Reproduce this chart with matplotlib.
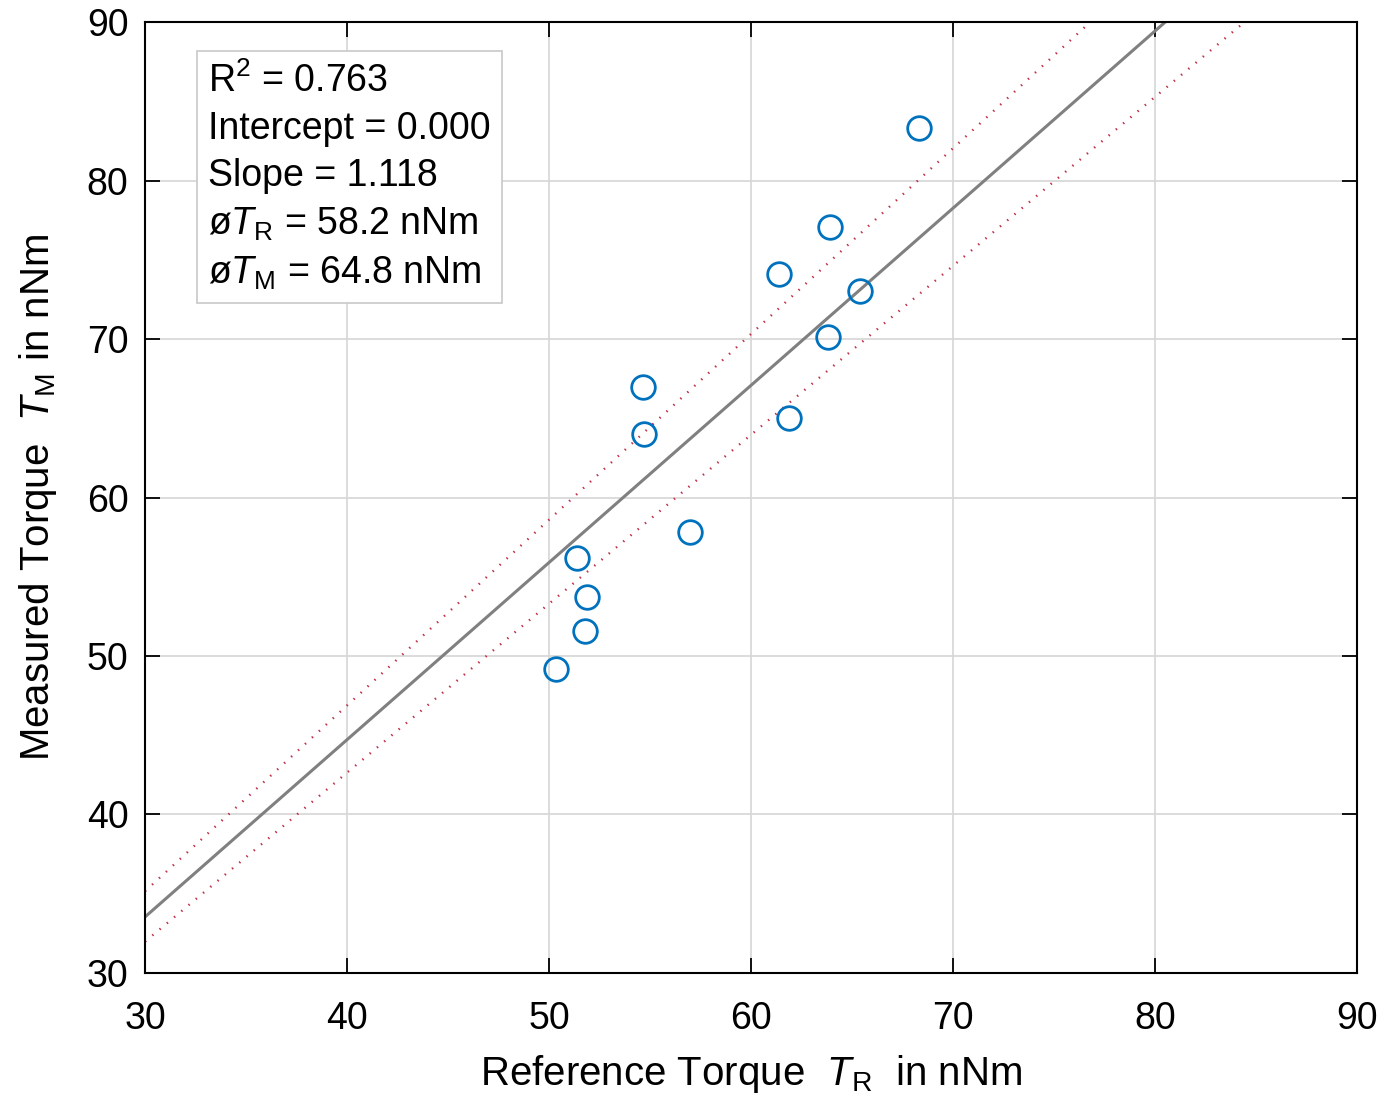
import numpy as np
import matplotlib.pyplot as plt

plt.rcParams['font.family'] = ['Liberation Sans', 'DejaVu Sans']
plt.rcParams['mathtext.fontset'] = 'custom'
plt.rcParams['mathtext.rm'] = 'Liberation Sans'
plt.rcParams['mathtext.it'] = 'Liberation Sans:italic'

# Messwerte
ref_torque = [50.35, 51.4, 51.9, 51.8, 54.65, 54.7, 57.0, 61.4, 61.9, 63.9, 63.8, 65.4, 68.3]
meas_torque = [49.2, 56.2, 53.7, 51.6, 67.0, 64.0, 57.8, 74.1, 65.0, 77.1, 70.1, 73.0, 83.3]

# Regression (durch Ursprung) und Band
slope = 1.118
band_slopes = [1.172, 1.066]
ticks = [30, 40, 50, 60, 70, 80, 90]

fig = plt.figure(figsize=(13.95, 11.04), dpi=100)
ax = fig.add_axes([0.104, 0.1187, 0.8688, 0.8613])

xl = np.array([30, 90])
ax.plot(xl, slope * xl, color='#808080', lw=2.2, zorder=2)
for s in band_slopes:
    ax.plot(xl, s * xl, color='#c03048', lw=1.7, ls=(0, (0.6, 3.4)), zorder=2)

ax.plot(ref_torque, meas_torque, 'o', mfc='none', mec='#0072BD', ms=17, mew=2, zorder=3)

ax.set_xlim(30, 90)
ax.set_ylim(30, 90)
ax.set_xticks(ticks)
ax.set_yticks(ticks)
ax.grid(True, color='#d6d6d6', lw=1.2)
ax.set_axisbelow(True)
ax.tick_params(direction='in', length=11, width=1.3, top=True, right=True,
               labelsize=27)
ax.tick_params(axis='x', pad=20)
ax.tick_params(axis='y', pad=12)
for sp in ax.spines.values():
    sp.set_linewidth(1.5)

ax.set_xlabel(r'Reference Torque  $T_\mathrm{R}$  in nNm', fontsize=29, labelpad=12)
ax.set_ylabel(r'Measured Torque  $T_\mathrm{M}$ in nNm', fontsize=29, labelpad=20)

# Textbox mit Kennwerten
txt = ('R$^2$ = 0.763\nIntercept = 0.000\nSlope = 1.118\n'
       'ø$T_\\mathrm{R}$ = 58.2 nNm\nø$T_\\mathrm{M}$ = 64.8 nNm')
ax.text(0.052, 0.958, txt, transform=ax.transAxes, fontsize=27, va='top', ha='left',
        linespacing=1.4,
        bbox=dict(boxstyle='square,pad=0.3', fc='white', ec='#c8c8c8', lw=1.2))

fig.savefig('out.png', dpi=100)
